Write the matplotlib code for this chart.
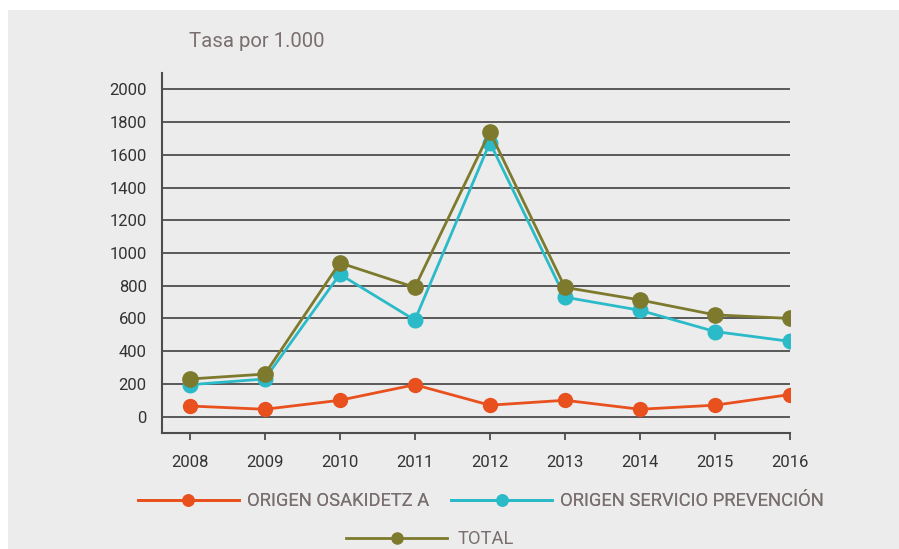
import numpy as np
import matplotlib
matplotlib.use('Agg')
import matplotlib.pyplot as plt
import matplotlib.lines as mlines
from matplotlib.patches import Rectangle

years = [2008, 2009, 2010, 2011, 2012, 2013, 2014, 2015, 2016]
osakidetza = [65, 45, 100, 195, 70, 100, 45, 70, 135]
servicio = [195, 230, 870, 590, 1675, 730, 650, 520, 460]
total = [230, 260, 940, 790, 1740, 790, 713, 622, 600]

y_ticks = [0, 200, 400, 600, 800, 1000, 1200, 1400, 1600, 1800, 2000]
y_marked = [0, 400, 1200, 1600, 2000]

labels = ['ORIGEN OSAKIDETZ A', 'ORIGEN SERVICIO PREVENCIÓN', 'TOTAL']
colors = ['#e8501e', '#2bbac8', '#7d7a2e']

plt.rcParams['font.family'] = ['Roboto', 'DejaVu Sans']

fig = plt.figure(figsize=(8.99, 5.49), dpi=100, facecolor='white')
fig.patches.append(Rectangle((8 / 899, 0), 1 - 8 / 899, 1 - 10 / 549,
                             transform=fig.transFigure, facecolor='#ececec',
                             edgecolor='none', zorder=-1))

ax = fig.add_axes([162 / 899, 1 - 433 / 549, 628 / 899, 360 / 549])
ax.set_facecolor('none')

# grid lines
for v in y_ticks:
    ax.axhline(v, color='#4d4d4d', lw=1.3, zorder=1)

series = [osakidetza, servicio, total]
msizes = [10, 10.5, 11]
for vals, col, ms in zip(series, colors, msizes):
    ax.plot(years, vals, color=col, lw=2, marker='o', markersize=ms, zorder=3)

ax.set_xlim(2007.63, 2016)
ax.set_ylim(-100, 2100)

ax.set_xticks(years)
ax.set_yticks(y_ticks)
ax.set_yticks(y_marked, minor=True)
ax.tick_params(axis='y', which='major', length=0, pad=11, labelsize=12, labelcolor='#333333')
ax.tick_params(axis='y', which='minor', length=7.5, width=1.3, color='#4d4d4d')
ax.tick_params(axis='x', which='major', length=5, width=1.3, color='#4d4d4d', pad=11,
               labelsize=12, labelcolor='#333333')

for s in ['top', 'right']:
    ax.spines[s].set_visible(False)
for s in ['left', 'bottom']:
    ax.spines[s].set_color('#4d4d4d')
    ax.spines[s].set_linewidth(1.5)

fig.text(189 / 899, 1 - 47 / 549, 'Tasa por 1.000', fontsize=14.7, color='#7a6f6f',
         va='baseline', ha='left')

handles = [mlines.Line2D([], [], color=c, lw=2, marker='o', markersize=8) for c in colors]

leg1 = fig.legend(handles[:2], labels[:2], loc='center', ncol=2,
                  bbox_to_anchor=(481 / 899, 1 - 501 / 549), frameon=False,
                  handlelength=5.5, handletextpad=0.45, columnspacing=1.2,
                  fontsize=13.2, labelcolor='#7a6f6f')
leg2 = fig.legend(handles[2:], labels[2:], loc='center',
                  bbox_to_anchor=(430 / 899, 1 - 539 / 549), frameon=False,
                  handlelength=5.5, handletextpad=0.55,
                  fontsize=13.2, labelcolor='#7a6f6f')
fig.add_artist(leg1)

fig.savefig('out.png', dpi=100, facecolor=fig.get_facecolor())
